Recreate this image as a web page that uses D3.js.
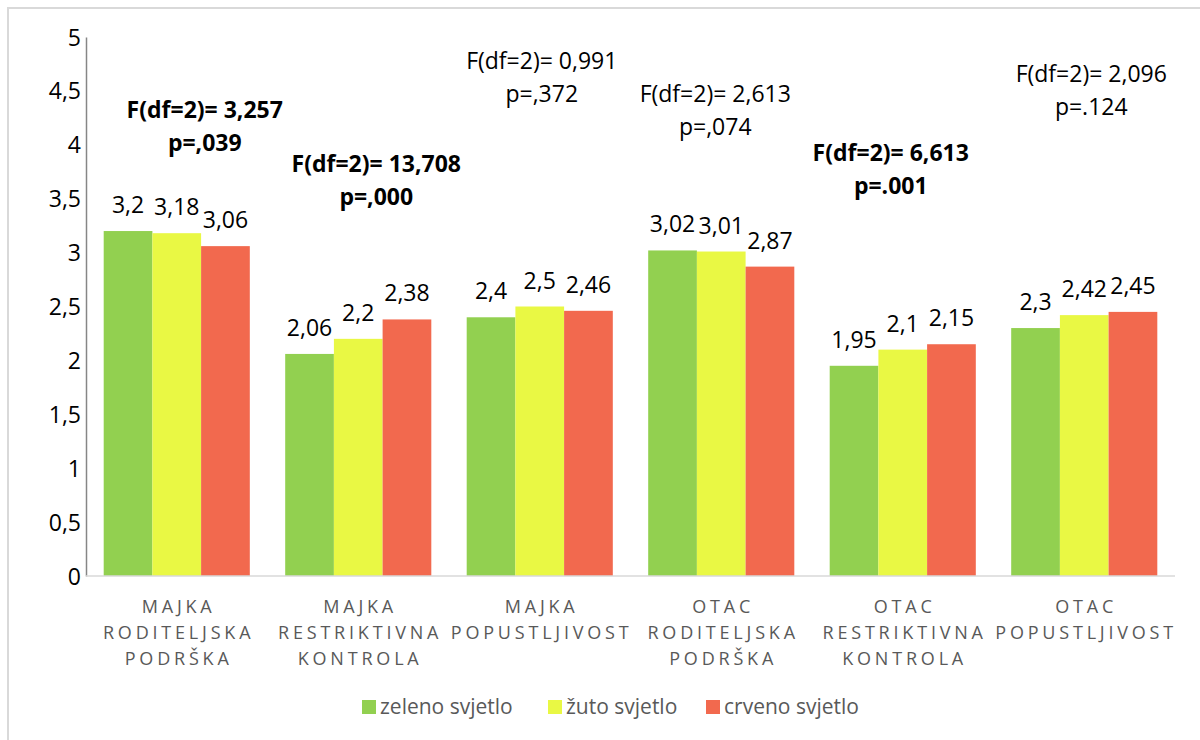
<!DOCTYPE html>
<html>
<head>
<meta charset="utf-8">
<script src="https://cdn.jsdelivr.net/npm/d3@7"></script>
<style>
  body { margin: 0; background: #fff; }
  svg text { font-family: "Open Sans", sans-serif; }
</style>
</head>
<body>
<div id="chart"></div>
<script>
// categories (two or three lines each)
const categories = [
  ["MAJKA", "RODITELJSKA", "PODRŠKA"],
  ["MAJKA", "RESTRIKTIVNA", "KONTROLA"],
  ["MAJKA", "POPUSTLJIVOST"],
  ["OTAC", "RODITELJSKA", "PODRŠKA"],
  ["OTAC", "RESTRIKTIVNA", "KONTROLA"],
  ["OTAC", "POPUSTLJIVOST"]
];
const seriesNames = ["zeleno svjetlo", "žuto svjetlo", "crveno svjetlo"];
const zeleno = [3.2, 2.06, 2.4, 3.02, 1.95, 2.3];
const zuto = [3.18, 2.2, 2.5, 3.01, 2.1, 2.42];
const crveno = [3.06, 2.38, 2.46, 2.87, 2.15, 2.45];
const yTicks = [0, 0.5, 1, 1.5, 2, 2.5, 3, 3.5, 4, 4.5, 5];

// ANOVA results per category
const fText = ["F(df=2)= 3,257", "F(df=2)= 13,708", "F(df=2)= 0,991", "F(df=2)= 2,613", "F(df=2)= 6,613", "F(df=2)= 2,096"];
const pText = ["p=,039", "p=,000", "p=,372", "p=,074", "p=.001", "p=.124"];
const significant = [true, true, false, false, true, false];
// where each annotation sits (in axis units, and shift in px from group centre)
const annotLevel = [4.25, 3.75, 4.7, 4.4, 3.85, 4.58];
const annotShift = [28, 18, 2, -6, -12, 7];

const colors = ["#92D050", "#E9F844", "#F2694E"];
const series = [zeleno, zuto, crveno];

const width = 1200, height = 740;
const margin = { top: 37, right: 25, bottom: 164, left: 86 };

const svg = d3.select("#chart").append("svg")
  .attr("width", width)
  .attr("height", height);

// outer frame of the chart area
svg.append("rect")
  .attr("x", 8).attr("y", 8)
  .attr("width", width).attr("height", height)
  .attr("fill", "none")
  .attr("stroke", "#d9d9d9")
  .attr("stroke-width", 2);

const x = d3.scaleBand()
  .domain(d3.range(categories.length))
  .range([margin.left, width - margin.right])
  .paddingInner(0.195)
  .paddingOuter(0.0975);

const xs = d3.scaleBand()
  .domain(d3.range(series.length))
  .range([0, x.bandwidth()]);

const y = d3.scaleLinear()
  .domain([0, 5])
  .range([height - margin.bottom, margin.top]);

// y axis
const yAxis = svg.append("g")
  .attr("transform", `translate(${margin.left},0)`)
  .call(d3.axisLeft(y).tickValues(yTicks).tickSize(0).tickPadding(5)
    .tickFormat(d => String(d).replace(".", ",")));
yAxis.select(".domain").attr("stroke", "#868686").attr("stroke-width", 1.5);
yAxis.selectAll("text")
  .attr("font-size", 23)
  .attr("fill", "#000")
  .attr("dy", "0.35em");

// bars
series.forEach((vals, s) => {
  svg.append("g").selectAll("rect")
    .data(vals)
    .join("rect")
    .attr("x", (d, i) => x(i) + xs(s))
    .attr("y", d => y(d))
    .attr("width", xs.bandwidth())
    .attr("height", d => y(0) - y(d))
    .attr("fill", colors[s]);

  svg.append("g").selectAll("text")
    .data(vals)
    .join("text")
    .attr("x", (d, i) => x(i) + xs(s) + xs.bandwidth() / 2)
    .attr("y", d => y(d) - 18)
    .attr("text-anchor", "middle")
    .attr("font-size", 23)
    .attr("fill", "#000")
    .text(d => String(d).replace(".", ","));
});

// x axis baseline
svg.append("line")
  .attr("x1", margin.left).attr("x2", width - margin.right)
  .attr("y1", y(0)).attr("y2", y(0))
  .attr("stroke", "#d9d9d9")
  .attr("stroke-width", 1.5);

// category labels
const catG = svg.append("g").selectAll("text")
  .data(categories)
  .join("text")
  .attr("text-anchor", "middle")
  .attr("font-size", 18)
  .attr("letter-spacing", 3.8)
  .attr("fill", "#595959");
catG.selectAll("tspan")
  .data((d, i) => d.map(t => ({ t, i })))
  .join("tspan")
  .attr("x", d => x(d.i) + x.bandwidth() / 2 + 1.9)
  .attr("y", (d, j) => y(0) + 37 + j * 26)
  .text(d => d.t);

// ANOVA annotations
categories.forEach((c, i) => {
  const cx = x(i) + x.bandwidth() / 2 + annotShift[i];
  const by = y(annotLevel[i]);
  const t = svg.append("text")
    .attr("text-anchor", "middle")
    .attr("font-size", 23)
    .attr("font-weight", significant[i] ? "bold" : "normal")
    .attr("fill", "#000");
  t.append("tspan").attr("x", cx).attr("y", by).text(fText[i]);
  t.append("tspan").attr("x", cx).attr("y", by + 33).text(pText[i]);
});

// legend
const legendX = [362, 548, 706];
const legend = svg.append("g").selectAll("g")
  .data(seriesNames)
  .join("g")
  .attr("transform", (d, i) => `translate(${legendX[i]},707)`);
legend.append("rect")
  .attr("x", 0).attr("y", -7)
  .attr("width", 14).attr("height", 14)
  .attr("fill", (d, i) => colors[i]);
legend.append("text")
  .attr("x", 18)
  .attr("dy", "0.35em")
  .attr("font-size", 21)
  .attr("fill", "#595959")
  .text(d => d);
</script>
</body>
</html>
